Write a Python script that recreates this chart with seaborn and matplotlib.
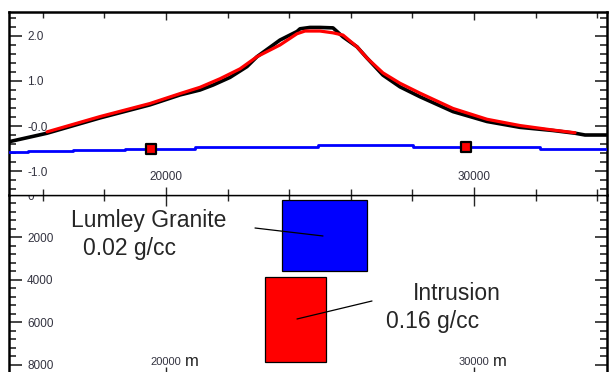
import numpy as np
import pandas as pd
import matplotlib
matplotlib.use("Agg")
import matplotlib.pyplot as plt
import seaborn as sns
from matplotlib.patches import Rectangle
from matplotlib.ticker import MultipleLocator, FixedLocator

# observed gravity profile (black)
obs_x = [14900, 16140, 17860, 19480, 20455, 21104, 21526, 22078, 22630, 22955,
         23701, 24253, 24351, 24675, 25000, 25422, 25747, 26201, 26526, 27045,
         27597, 28247, 29318, 30422, 31494, 32565, 33279, 33604, 34318]
obs_v = [-0.35, -0.16, 0.18, 0.47, 0.69, 0.80, 0.91, 1.08, 1.32, 1.54,
         1.91, 2.10, 2.16, 2.19, 2.19, 2.18, 1.98, 1.76, 1.51, 1.13,
         0.87, 0.65, 0.32, 0.10, -0.03, -0.10, -0.16, -0.20, -0.20]

# calculated response (red)
calc_x = [16140, 17860, 19480, 20455, 21104, 21753, 22403, 22955, 23701, 24253,
          24513, 25000, 25422, 25747, 26201, 26526, 27045, 27597, 28247, 29318,
          30422, 31494, 32565, 33279]
calc_v = [-0.13, 0.21, 0.50, 0.72, 0.86, 1.05, 1.27, 1.54, 1.80, 2.05,
          2.11, 2.11, 2.07, 2.02, 1.76, 1.51, 1.18, 0.95, 0.73, 0.39,
          0.15, 0.01, -0.09, -0.15]

# regional / error line (blue, stepped)
reg_x = [14900, 15520, 16980, 18670, 20940, 24935, 28020, 32140, 34318]
reg_v = [-0.585, -0.556, -0.533, -0.50, -0.46, -0.43, -0.47, -0.51, -0.51]

# station markers
st_x = [19510, 29740]
st_v = [-0.50, -0.46]

# model bodies
body_names = ["Lumley Granite", "Intrusion"]
body_density = ["0.02 g/cc", "0.16 g/cc"]
body_x0 = [23770, 23210]
body_x1 = [26530, 25190]
body_top = [240, 3870]
body_base = [3590, 7880]
body_color = ["#0000ff", "#ff0000"]

top_ticks = [-1, 0, 1, 2]
top_labels = ["-1.0", "-0.0", "1.0", "2.0"]
depth_ticks = [0, 2000, 4000, 6000, 8000]
depth_labels = ["0", "2000", "4000", "6000", "8000"]

sns.set_style("white")
plt.rcParams["font.family"] = ["Liberation Sans", "DejaVu Sans"]

W, H = 609, 372
fig = plt.figure(figsize=(W / 100, H / 100), dpi=100)
left, right = 9 / W, 607 / W
ax = fig.add_axes([left, (H - 195) / H, right - left, (195 - 12) / H])
ax2 = fig.add_axes([left, -6 / H, right - left, (H + 6 - 195) / H])
ax.set_zorder(3)
ax.patch.set_facecolor("white")

xlim = (14903, 34318)
lab_col = "#333340"

# ---- top panel: gravity
sns.lineplot(x=obs_x, y=obs_v, ax=ax, color="black", lw=2.6, zorder=3)
sns.lineplot(x=calc_x, y=calc_v, ax=ax, color="#ff0000", lw=2.3, zorder=4)
sns.lineplot(x=reg_x, y=reg_v, ax=ax, color="#0000ff", lw=2.0,
             drawstyle="steps-post", zorder=3)
sns.scatterplot(x=st_x, y=st_v, ax=ax, marker="s", s=55, color="#ff0000",
                edgecolor="black", linewidth=1.6, zorder=5)
ax.set_xlim(xlim)
ax.set_ylim(-1.533, 2.533)
ax.set_xlabel("")
ax.set_ylabel("")

ax.yaxis.set_major_locator(FixedLocator(top_ticks))
ax.set_yticklabels(top_labels)
ax.yaxis.set_minor_locator(MultipleLocator(0.2))
ax.xaxis.set_major_locator(MultipleLocator(10000))
ax.xaxis.set_minor_locator(MultipleLocator(2000))
ax.tick_params(axis="y", which="major", direction="in", length=9, width=1.2,
               left=True, right=True, pad=-13, labelsize=8.5, labelcolor=lab_col)
ax.tick_params(axis="y", which="minor", direction="in", length=5, width=1.2,
               left=True, right=True)
for t in ax.get_yticklabels():
    t.set_horizontalalignment("left")
ax.tick_params(axis="x", which="major", direction="in", length=6, width=1.0,
               top=True, bottom=True, labelbottom=False)
ax.tick_params(axis="x", which="minor", direction="in", length=4, width=1.0,
               top=True, bottom=True)
for xv in [20000, 30000]:
    ax.text(xv, -1.133, str(xv), ha="center", va="center", fontsize=8.5,
            color=lab_col)

for s in ["left", "right", "top"]:
    ax.spines[s].set_linewidth(1.8)
    ax.spines[s].set_color("black")
ax.spines["bottom"].set_linewidth(1.0)
ax.spines["bottom"].set_color("black")

# ---- bottom panel: model section
for i in range(len(body_names)):
    ax2.add_patch(Rectangle((body_x0[i], body_top[i]), body_x1[i] - body_x0[i],
                            body_base[i] - body_top[i], facecolor=body_color[i],
                            edgecolor="black", lw=0.9, zorder=3))
ax2.set_xlim(xlim)
ax2.set_ylim(8612, 0)

ax2.plot([22890, 25097], [1553, 1929], color="black", lw=0.9, zorder=4)
ax2.plot([24253, 26688], [5835, 4988], color="black", lw=0.9, zorder=4)

ax2.text(16900, 1506, body_names[0], fontsize=16.5, va="baseline", ha="left")
ax2.text(17300, 2824, body_density[0], fontsize=16.5, va="baseline", ha="left")
ax2.text(28000, 4941, body_names[1], fontsize=16.5, va="baseline", ha="left")
ax2.text(27150, 6259, body_density[1], fontsize=16.5, va="baseline", ha="left")

for xv in [20000, 30000]:
    ax2.text(xv, 7860, str(xv), ha="center", va="center", fontsize=8,
             color=lab_col)
    ax2.text(xv + 600, 7830, "m", ha="left", va="center", fontsize=12,
             color="#222222")

ax2.yaxis.set_major_locator(FixedLocator(depth_ticks))
ax2.set_yticklabels(depth_labels)
ax2.yaxis.set_minor_locator(MultipleLocator(400))
ax2.tick_params(axis="y", which="major", direction="in", length=9, width=1.2,
                left=True, right=True, pad=-13, labelsize=8.5, labelcolor=lab_col)
ax2.tick_params(axis="y", which="minor", direction="in", length=5, width=1.2,
                left=True, right=True)
for t in ax2.get_yticklabels():
    t.set_horizontalalignment("left")
ax2.xaxis.set_major_locator(MultipleLocator(10000))
ax2.xaxis.set_minor_locator(MultipleLocator(2000))
ax2.tick_params(axis="x", which="major", direction="in", length=8, width=1.0,
                top=True, bottom=True, labelbottom=False)
ax2.tick_params(axis="x", which="minor", direction="in", length=4, width=1.0,
                top=True, bottom=False)
for s in ["left", "right"]:
    ax2.spines[s].set_linewidth(1.8)
    ax2.spines[s].set_color("black")
ax2.spines["top"].set_linewidth(1.0)
ax2.spines["top"].set_color("black")
ax2.spines["bottom"].set_visible(False)

fig.savefig("out.png", dpi=100)
